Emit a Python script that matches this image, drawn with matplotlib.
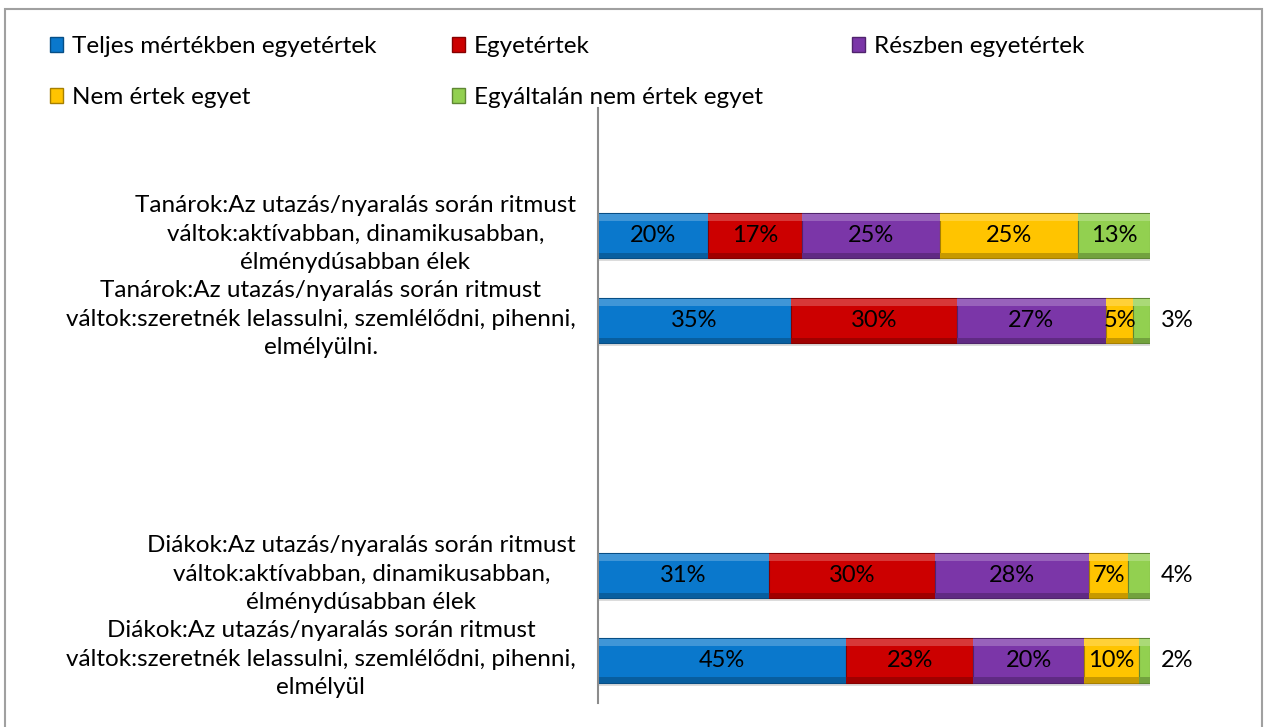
import numpy as np
import matplotlib.pyplot as plt
import matplotlib.transforms as mtransforms
from matplotlib.patches import Rectangle, Patch
from matplotlib.colors import to_rgb

plt.rcParams['font.family'] = ['Lato', 'DejaVu Sans']

# kategóriák (felülről lefelé), üres helyek is vannak mint az eredetiben
categories = [
    '',
    'Tanárok:Az utazás/nyaralás során ritmust\nváltok:aktívabban, dinamikusabban,\nélménydúsabban élek',
    'Tanárok:Az utazás/nyaralás során ritmust\nváltok:szeretnék lelassulni, szemlélődni, pihenni,\nelmélyülni.',
    '',
    '',
    'Diákok:Az utazás/nyaralás során ritmust\nváltok:aktívabban, dinamikusabban,\nélménydúsabban élek',
    'Diákok:Az utazás/nyaralás során ritmust\nváltok:szeretnék lelassulni, szemlélődni, pihenni,\nelmélyül',
]

series = ['Teljes mértékben egyetértek', 'Egyetértek', 'Részben egyetértek',
          'Nem értek egyet', 'Egyáltalán nem értek egyet']

teljes = [np.nan, 20, 35, np.nan, np.nan, 31, 45]
egyet = [np.nan, 17, 30, np.nan, np.nan, 30, 23]
reszben = [np.nan, 25, 27, np.nan, np.nan, 28, 20]
nem = [np.nan, 25, 5, np.nan, np.nan, 7, 10]
egyaltalan = [np.nan, 13, 3, np.nan, np.nan, 4, 2]

colors = ['#0A78CC', '#CC0000', '#7B36A8', '#FFC400', '#92D050']

data = np.array([teljes, egyet, reszben, nem, egyaltalan], dtype=float)


def mix(c, other, t):
    c = np.array(to_rgb(c))
    o = np.array(to_rgb(other))
    return tuple(c * (1 - t) + o * t)


fig = plt.figure(figsize=(12.67, 7.27), dpi=100)
ax = fig.add_axes([598 / 1267, 1 - 703 / 727, (1150 - 598) / 1267, 595 / 727])

y = np.arange(len(categories))
h = 0.52
left = np.zeros(len(categories))
for vals, col, name in zip(data, colors, series):
    ok = ~np.isnan(vals)
    v = vals[ok]
    yy = y[ok]
    ll = left[ok]
    # árnyék
    ax.barh(yy + 0.04, v, left=ll, height=h, color='#dcdcdc', zorder=1)
    ax.barh(yy, v, left=ll, height=h, color=col,
            edgecolor=mix(col, 'black', 0.35), linewidth=0.8, zorder=2, label=name)
    # fényes felső él, sötét alsó él
    ax.barh(yy - h / 2 + 0.05, v, left=ll, height=0.09,
            color=mix(col, 'white', 0.22), linewidth=0, zorder=3)
    ax.barh(yy + h / 2 - 0.03, v, left=ll, height=0.06,
            color=mix(col, 'black', 0.22), linewidth=0, zorder=3)
    for yi, vi, li in zip(yy, v, ll):
        if vi < 5:
            ax.text(100 + 2.0, yi, f'{vi:.0f}%', ha='left', va='center',
                    fontsize=17, clip_on=False, zorder=5)
        else:
            ax.text(li + vi / 2, yi, f'{vi:.0f}%', ha='center', va='center',
                    fontsize=17, zorder=5)
    left = left + np.nan_to_num(vals)

ax.set_xlim(0, 100)
ax.set_ylim(len(categories) - 0.5, -0.5)
ax.set_xticks([])
ax.set_yticks(y)
ax.set_yticklabels(categories, fontsize=17.5, linespacing=1.42, multialignment='center')
ax.tick_params(axis='y', length=0, pad=16)
# a címkék kicsit feljebb, mint az eredetiben
shift = mtransforms.ScaledTranslation(0, 7 / 100, fig.dpi_scale_trans)
for lab in ax.get_yticklabels():
    lab.set_transform(lab.get_transform() + shift)
for s in ['top', 'right', 'bottom']:
    ax.spines[s].set_visible(False)
ax.spines['left'].set_color('#8c8c8c')
ax.spines['left'].set_linewidth(1.5)
ax.spines['left'].set_zorder(6)

# jelmagyarázat soronként, három oszlopban
handles = [Patch(facecolor=c, edgecolor=mix(c, 'black', 0.35), label=s)
           for c, s in zip(colors, series)]
col_x = [50, 452, 852]
for k, x0 in enumerate(col_x):
    hs = handles[k::3]
    fig.legend(handles=hs, loc='upper left', bbox_to_anchor=(x0 / 1267, 1 - 36 / 727),
               frameon=False, fontsize=17.5, handlelength=0.55, handleheight=0.55,
               handletextpad=0.35, labelspacing=1.25, borderpad=0, borderaxespad=0)

# keret
fig.patches.append(Rectangle((5 / 1267, -0.02), 1257 / 1267, 1 - 9 / 727 + 0.02,
                             transform=fig.transFigure, fill=False,
                             edgecolor='#a0a0a0', linewidth=1.5))

fig.savefig('out.png', dpi=100)
